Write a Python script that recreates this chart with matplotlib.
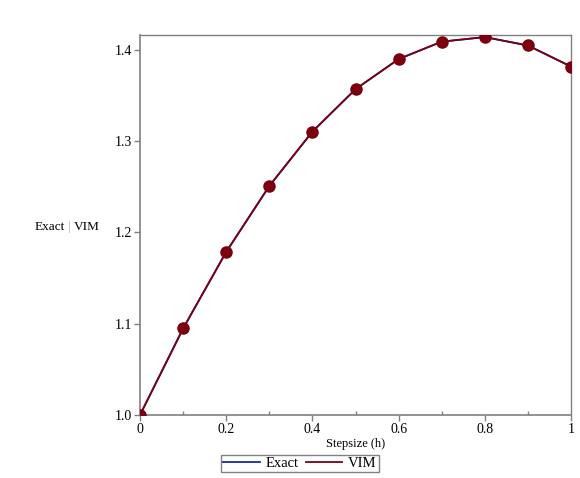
import matplotlib
matplotlib.use('Agg')
import matplotlib.pyplot as plt
from matplotlib.ticker import MultipleLocator

plt.rcParams['font.family'] = ['Liberation Serif', 'DejaVu Serif']

h = [0.0, 0.1, 0.2, 0.3, 0.4, 0.5, 0.6, 0.7, 0.8, 0.9, 1.0]
exact = [1.0, 1.0948, 1.1787, 1.2509, 1.3105, 1.3570, 1.3900, 1.4091, 1.4141, 1.4049, 1.3818]
vim = [1.0, 1.0948, 1.1787, 1.2509, 1.3105, 1.3570, 1.3900, 1.4091, 1.4141, 1.4049, 1.3818]
xticks = [0, 0.2, 0.4, 0.6, 0.8, 1]
xticklabels = ['0', '0.2', '0.4', '0.6', '0.8', '1']
yticks = [1.0, 1.1, 1.2, 1.3, 1.4]

fig = plt.figure(figsize=(5.8, 4.78), dpi=100)
ax = fig.add_axes([0.2414, 0.1318, 0.7431, 0.795])

ax.plot(h, exact, color='#1a2a9a', lw=1.3, label='Exact', zorder=2)
ax.plot(h, vim, color='#7a0010', lw=1.3, label='VIM', zorder=3)
ax.plot(h, vim, 'o', color='#7a0010', ms=8, zorder=4)

ax.set_xlim(0, 1)
ax.set_ylim(1.0, 1.4164)
ax.set_xticks(xticks)
ax.set_xticklabels(xticklabels)
ax.set_yticks(yticks)
ax.set_yticklabels(['%.1f' % v for v in yticks])
ax.xaxis.set_minor_locator(MultipleLocator(0.1))
ax.tick_params(axis='both', which='major', direction='out', length=4, width=1,
               color='#808080', labelsize=10, pad=2)
ax.tick_params(axis='x', which='minor', direction='in', length=3, width=1, color='#808080')
for s in ax.spines.values():
    s.set_color('#808080')
    s.set_linewidth(1.2)
for sp in ['top', 'right']:
    ax.spines[sp].set_linewidth(1.0)

ax.set_xlabel('Stepsize (h)', fontsize=9, labelpad=1)
fig.text(35 / 580, 0.525, 'Exact', fontsize=9.5, ha='left', va='center')
fig.text(68 / 580, 0.525, '|', fontsize=9.5, ha='left', va='center', color='#aaaaaa')
fig.text(74 / 580, 0.525, 'VIM', fontsize=9.5, ha='left', va='center')

leg = fig.legend(loc='center', bbox_to_anchor=(0.517, 0.03), ncol=2, frameon=True,
                 fancybox=False, fontsize=10.5, handlelength=2.5, columnspacing=0.5,
                 handletextpad=0.4, borderpad=0.15, borderaxespad=0)
leg.get_frame().set_edgecolor('#606060')
leg.get_frame().set_linewidth(1.0)

fig.savefig('out.png', dpi=100)
